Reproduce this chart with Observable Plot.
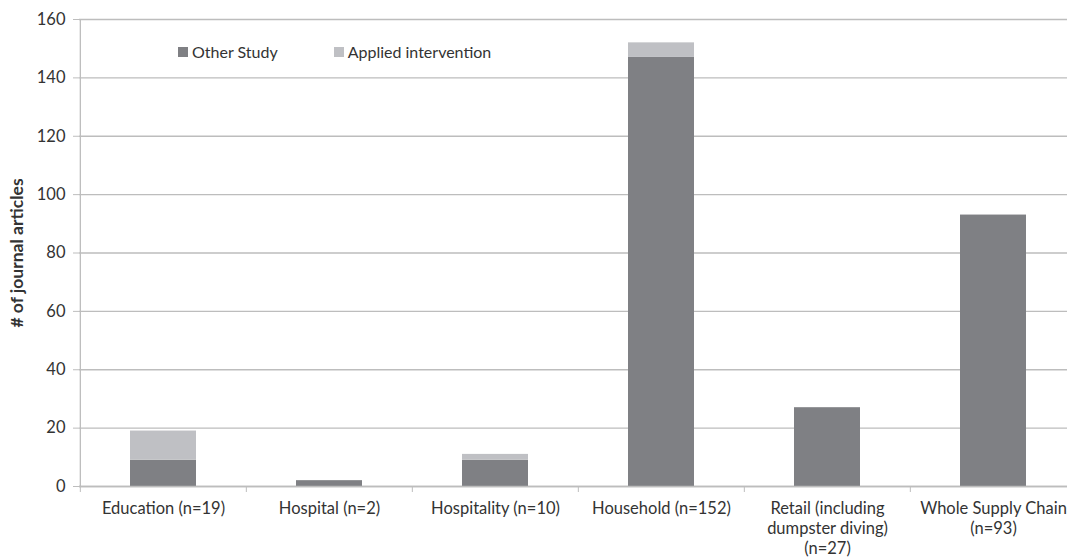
<!DOCTYPE html>
<html>
<head>
<meta charset="utf-8">
<script src="https://cdn.jsdelivr.net/npm/d3@7"></script>
<script src="https://cdn.jsdelivr.net/npm/@observablehq/plot@0.6"></script>
<style>
  html, body { margin: 0; padding: 0; background: #fff; overflow: hidden; }
  #wrap { position: relative; width: 1067px; height: 560px; overflow: hidden; font-family: Lato, sans-serif; }
  #chart svg { max-width: none !important; }
  #legend { position: absolute; left: 178px; top: 42px; display: flex; gap: 0; font-size: 16px; color: #333; }
  #legend .item { display: flex; align-items: center; }
  #legend .sw { width: 10px; height: 10px; margin-right: 4px; }
</style>
</head>
<body>
<div id="wrap">
  <div id="chart"></div>
  <div id="legend"></div>
</div>
<script>
const categories = ["Education (n=19)", "Hospital (n=2)", "Hospitality (n=10)", "Household (n=152)", "Retail (including\ndumpster diving)\n(n=27)", "Whole Supply Chain\n(n=93)"];
const otherStudy = [9, 2, 9, 147, 27, 93];
const appliedIntervention = [10, 0, 2, 5, 0, 0];
const seriesNames = ["Other Study", "Applied intervention"];
const seriesColors = ["#7f8084", "#bfc0c4"];
const yTicks = [0, 20, 40, 60, 80, 100, 120, 140, 160];

const data = [];
categories.forEach((c, i) => {
  data.push({category: c, series: seriesNames[0], value: otherStudy[i]});
  data.push({category: c, series: seriesNames[1], value: appliedIntervention[i]});
});

const width = 1077, marginLeft = 79, marginRight = 0;
const step = (width - marginLeft - marginRight) / categories.length;
const textColor = "#333";
const lineColor = "#bdbdbd";

const chart = Plot.plot({
  width, height: 560,
  marginLeft, marginRight, marginTop: 19, marginBottom: 74,
  style: {fontFamily: "Lato, sans-serif", color: textColor, background: "#fff", maxWidth: "none"},
  x: {domain: categories, paddingInner: 0.6, paddingOuter: 0.3, label: null},
  y: {domain: [0, 160], label: null},
  color: {domain: seriesNames, range: seriesColors},
  marks: [
    Plot.gridY(yTicks, {stroke: lineColor, strokeOpacity: 1, strokeWidth: 1.3}),
    Plot.barY(data, {x: "category", y: "value", fill: "series", order: seriesNames}),
    Plot.ruleX([categories[0]], {x: d => d, y1: 0, y2: 160, dx: -step / 2, stroke: lineColor, strokeWidth: 1.3}),
    Plot.ruleY([0], {stroke: lineColor, strokeWidth: 1.3}),
    Plot.axisY(yTicks, {tickSize: 6, tickPadding: 8, stroke: lineColor, fontSize: 16.5, fill: textColor, label: null}),
    Plot.axisX({tickSize: 6, dx: -step / 2, text: null, stroke: lineColor, label: null}),
    Plot.axisX({tickSize: 0, tickPadding: 13, fontSize: 16.5, fill: textColor, lineHeight: 1.22, label: null}),
    Plot.text(["# of journal articles"], {frameAnchor: "left", textAnchor: "middle", rotate: -90, dx: -62, fontSize: 17.5, fontWeight: "bold", fill: textColor})
  ]
});
document.getElementById("chart").appendChild(chart);

const legend = document.getElementById("legend");
seriesNames.forEach((s, i) => {
  const item = document.createElement("div");
  item.className = "item";
  item.style.marginRight = i === 0 ? "56px" : "0";
  const sw = document.createElement("div");
  sw.className = "sw";
  sw.style.background = seriesColors[i];
  const t = document.createElement("span");
  t.textContent = s;
  item.appendChild(sw);
  item.appendChild(t);
  legend.appendChild(item);
});
</script>
</body>
</html>
